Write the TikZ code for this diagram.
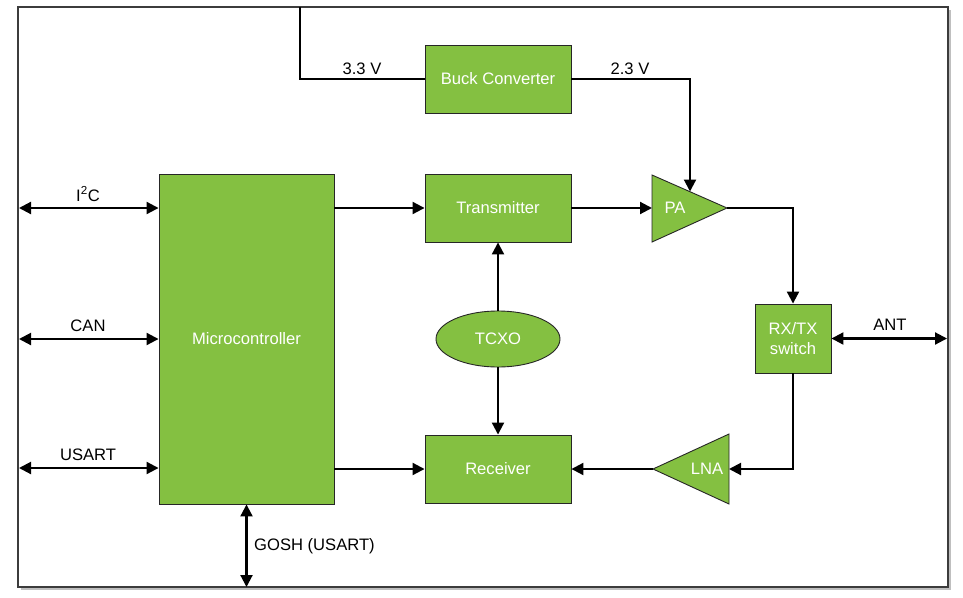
\documentclass[tikz,border=0pt]{standalone}
\usepackage{fontspec}
\setmainfont{Liberation Sans}
\usetikzlibrary{arrows.meta,shapes.geometric}
\definecolor{blkgreen}{RGB}{132,192,65}
\definecolor{frame}{RGB}{60,60,60}
\begin{document}
\begin{tikzpicture}[x=1pt,y=-1pt,
  font=\fontsize{16.6}{19}\selectfont,
  block/.style={draw=black!85,line width=0.9pt,fill=blkgreen,text=white,inner sep=0pt},
  tri/.style={draw=black!85,line width=0.9pt,fill=blkgreen},
  wire/.style={line width=2.1pt,line join=miter},
  arr/.style={wire,-{Triangle[length=12pt,width=12pt]}},
  darr/.style={wire,{Triangle[length=12pt,width=12pt]}-{Triangle[length=12pt,width=12pt]}},
  lbl/.style={text=black,inner sep=0pt}]
\useasboundingbox (0,0) rectangle (963,597);
% frame with shadow
\fill[black!25] (21,10) rectangle (951,590);
\draw[frame,line width=1.4pt,fill=white] (18,7) rectangle (948,587);

% blocks
\node[block,minimum width=146pt,minimum height=68pt] (buck) at (498,79) {Buck Converter};
\node[block,minimum width=175pt,minimum height=330pt] (mcu) at (246.5,339) {Microcontroller};
\node[block,minimum width=146pt,minimum height=68pt] (tx) at (498,208) {Transmitter};
\node[block,minimum width=146pt,minimum height=68pt] (rx) at (498,469) {Receiver};
\node[block,ellipse,minimum width=124pt,minimum height=56pt] (tcxo) at (498,339) {TCXO};
\node[block,minimum width=76pt,minimum height=69pt,align=center,font=\fontsize{16.6}{19.5}\selectfont] (sw) at (793,338.5) {RX/TX\\switch};

% amplifiers
\draw[tri] (652,175) -- (727,208) -- (652,242) -- cycle;
\coordinate (paL) at (652,208);
\coordinate (paT) at (727,208);
\coordinate (paTop) at (690,191.5);
\node[text=white,inner sep=0pt] (pa) at (675,208) {PA};
\draw[tri] (729,434) -- (653,469) -- (729,504) -- cycle;
\coordinate (lnaR) at (729,469);
\coordinate (lnaT) at (653,469);
\node[text=white,inner sep=0pt] (lna) at (707,469) {LNA};

% free ends
\coordinate (top) at (300,7);
\coordinate (i2cL) at (19,208);
\coordinate (canL) at (19,339);
\coordinate (usL) at (19,468);
\coordinate (antR) at (947,338.5);
\coordinate (goshB) at (246.5,587);

% power
\draw[wire] (top) |- (buck.west);
\node[lbl] (v33) at (362,69) {3.3 V};
\draw[arr] (buck.east) -| (paTop);
\node[lbl] (v23) at (630,69) {2.3 V};

% interfaces
\draw[darr] (i2cL) -- (mcu.west |- i2cL);
\node[lbl] (i2c) at (88,194) {I\textsuperscript{2}C};
\draw[darr] (canL) -- (mcu.west |- canL);
\node[lbl] (can) at (88,326) {CAN};
\draw[darr] (usL) -- (mcu.west |- usL);
\node[lbl] (usart) at (88,455) {USART};
\draw[darr] (mcu.south) -- (goshB);
\node[lbl,anchor=west] (gosh) at (254,546) {GOSH (USART)};

% signal path
\draw[arr] (mcu.east |- tx.west) -- (tx.west);
\draw[arr] (mcu.east |- rx.west) -- (rx.west);
\draw[arr] (tx.east) -- (paL);
\draw[arr] (paT) -| (sw.north);
\draw[arr] (sw.south) |- (lnaR);
\draw[arr] (lnaT) -- (rx.east);
\draw[arr] (tcxo.north) -- (tx.south);
\draw[arr] (tcxo.south) -- (rx.north);
\draw[darr] (sw.east) -- (antR);
\node[lbl] (ant) at (890,325) {ANT};
\end{tikzpicture}
\end{document}
